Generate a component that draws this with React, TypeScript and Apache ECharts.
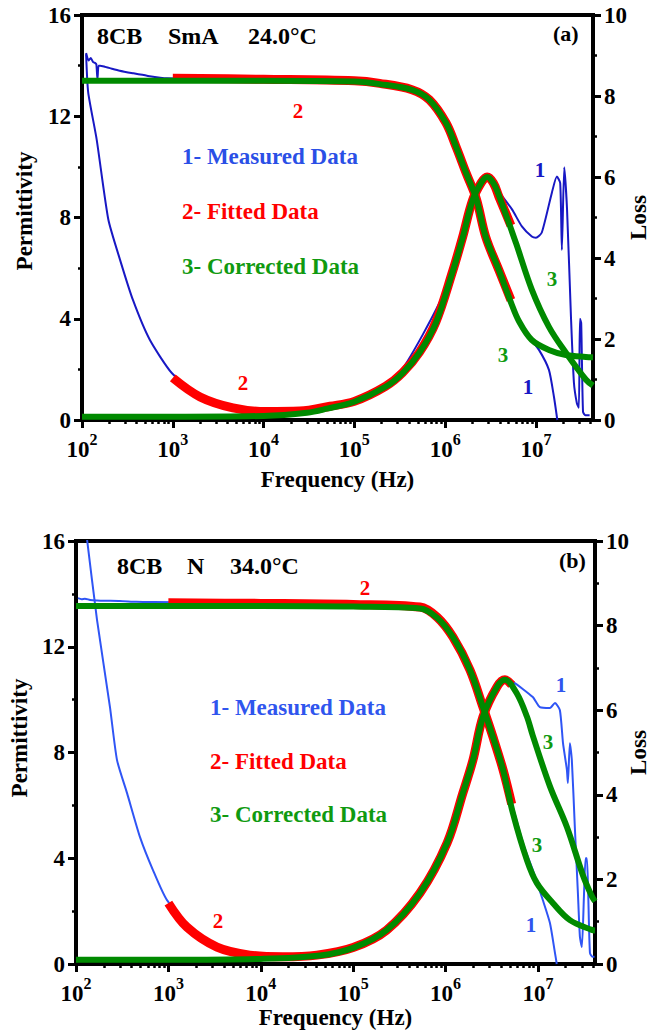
import React, { useEffect, useRef } from "react";
import * as echarts from "echarts";

const FONT = "Liberation Serif";

// ---------- tick values ----------
const decadeTicks = [1e2, 1e3, 1e4, 1e5, 1e6, 1e7];
const minorMultipliers = [2, 3, 4, 5, 6, 7, 8, 9];

// ---------- panel (a): 8CB SmA 24.0 °C ----------
const aMeasPermF = [111, 118, 125, 132, 140, 144, 148, 152, 158, 180, 203, 260, 363, 520, 860, 1e4, 1e5, 1.9e5, 4.3e5, 6.7e5, 1.02e6, 1.32e6, 1.7e6, 2.2e6, 2.8e6, 3.9e6, 5.3e6, 6.5e6, 8.4e6, 1.08e7, 1.39e7, 1.58e7, 1.72e7];
const aMeasPermV = [14.5, 14.2, 14.3, 14.15, 14.1, 14.05, 13.45, 14.0, 14.0, 13.95, 13.9, 13.8, 13.7, 13.6, 13.5, 13.45, 13.38, 13.27, 13.05, 12.65, 11.74, 10.79, 9.76, 8.75, 7.25, 5.95, 4.6, 3.9, 3.28, 2.77, 1.98, 0.91, 0.0];

const aMeasLossF = [111, 117, 145, 195, 262, 363, 558, 975, 2e3, 5e3, 1e4, 3e4, 1e5, 3e5, 1e6, 2e6, 2.9e6, 4e6, 5.45e6, 7e6, 9e6, 1e7, 1.16e7, 1.5e7, 1.7e7, 1.85e7, 1.93e7, 2.05e7, 2.2e7, 2.43e7, 2.62e7, 2.82e7, 2.97e7, 3.05e7, 3.15e7, 3.3e7, 3.5e7, 3.9e7];
const aMeasLossV = [9.03, 8.09, 6.93, 4.95, 3.96, 2.97, 1.98, 1.16, 0.6, 0.3, 0.22, 0.24, 0.47, 1.1, 3.2, 5.4, 6.0, 5.6, 5.2, 4.78, 4.53, 4.5, 4.63, 5.62, 6.01, 5.85, 4.2, 6.24, 5.2, 2.55, 0.92, 0.42, 0.3, 2.5, 2.4, 0.2, 0.12, 0.12];

const aFitPermF = [1e3, 1e4, 1e5, 1.9e5, 4.3e5, 6.7e5, 1.02e6, 1.32e6, 1.7e6, 2.2e6, 2.8e6, 3.9e6, 5.3e6];
const aFitPermV = [13.5, 13.46, 13.4, 13.3, 13.05, 12.65, 11.74, 10.79, 9.76, 8.75, 7.23, 5.93, 4.74];

const aFitLossF = [1e3, 2e3, 4.6e3, 1.07e4, 2.5e4, 5.4e4, 1e5, 2.2e5, 3.4e5, 5.2e5, 7.9e5, 1.2e6, 1.55e6, 2e6, 2.5e6, 2.9e6, 3.4e6, 3.9e6, 5.3e6];
const aFitLossV = [1.04, 0.57, 0.3, 0.21, 0.22, 0.34, 0.46, 0.83, 1.17, 1.67, 2.42, 3.65, 4.5, 5.42, 5.86, 6.0, 5.85, 5.52, 4.8];

const aCorrPermF = [100, 1e3, 1e4, 1e5, 1.9e5, 4.3e5, 6.7e5, 1.02e6, 1.32e6, 1.7e6, 2.2e6, 2.8e6, 3.9e6, 5.3e6, 6.5e6, 9e6, 1.39e7, 2.14e7, 3.54e7, 4.25e7];
const aCorrPermV = [13.4, 13.4, 13.4, 13.37, 13.27, 13.04, 12.65, 11.74, 10.79, 9.76, 8.75, 7.23, 5.93, 4.65, 3.9, 3.16, 2.77, 2.57, 2.49, 2.48];

const aCorrLossF = [100, 1e3, 1e4, 3e4, 5e4, 1e5, 2.2e5, 3.4e5, 5.2e5, 7.9e5, 1.2e6, 1.55e6, 2e6, 2.5e6, 2.9e6, 3.4e6, 3.9e6, 6e6, 9e6, 1.39e7, 2.14e7, 3.54e7, 4.25e7];
const aCorrLossV = [0.08, 0.08, 0.1, 0.18, 0.28, 0.45, 0.82, 1.16, 1.66, 2.4, 3.64, 4.48, 5.42, 5.86, 6.0, 5.85, 5.55, 4.38, 3.22, 2.3, 1.66, 1.0, 0.85];

// ---------- panel (b): 8CB N 34.0 °C ----------
const bMeasPermF = [105, 115, 125, 142, 170, 200, 299, 450, 680, 1e4, 1e5, 5.3e5, 8.1e5, 1.2e6, 1.84e6, 2.54e6, 3.26e6, 4.2e6, 5.2e6, 7e6, 8.8e6, 1.13e7, 1.35e7, 1.53e7, 1.6e7];
const bMeasPermV = [13.84, 13.8, 13.82, 13.77, 13.75, 13.74, 13.73, 13.7, 13.69, 13.66, 13.6, 13.5, 13.12, 12.37, 11.12, 9.72, 8.59, 7.34, 6.1, 4.5, 3.56, 2.42, 1.55, 0.42, 0.0];

const bMeasLossF = [100, 132, 169, 233, 278, 357, 493, 681, 966, 2e3, 5e3, 1e4, 3e4, 1e5, 3e5, 1e6, 2e6, 3e6, 4.4e6, 5.36e6, 8.8e6, 1.05e7, 1.35e7, 1.53e7, 1.73e7, 1.87e7, 2.06e7, 2.11e7, 2.22e7, 2.33e7, 2.51e7, 2.71e7, 2.85e7, 2.99e7, 3.15e7, 3.28e7, 3.39e7, 3.5e7, 3.66e7, 3.9e7, 4.1e7];
const bMeasLossV = [12.2, 10.02, 8.13, 6.08, 4.82, 4.04, 3.0, 2.22, 1.51, 0.75, 0.3, 0.2, 0.2, 0.4, 1.05, 2.8, 4.85, 6.2, 6.72, 6.67, 6.31, 6.07, 6.05, 6.17, 6.0, 5.22, 4.59, 4.28, 5.22, 4.82, 3.24, 1.68, 0.64, 0.4, 1.6, 2.5, 2.5, 1.7, 0.26, 0.17, 0.17];

const bFitPermF = [1e3, 1e4, 1e5, 5.3e5, 8.1e5, 1.2e6, 1.84e6, 2.54e6, 3.26e6, 4.2e6, 5.2e6];
const bFitPermV = [13.66, 13.64, 13.6, 13.5, 13.12, 12.37, 11.12, 9.72, 8.59, 7.34, 6.05];

const bFitLossF = [1e3, 1.59e3, 3.36e3, 7.6e3, 1.74e4, 4.05e4, 1e5, 2.3e5, 5.3e5, 1.04e6, 1.54e6, 1.98e6, 2.54e6, 3.6e6, 4.4e6, 5.2e6];
const bFitLossV = [1.44, 0.87, 0.4, 0.21, 0.17, 0.21, 0.39, 0.8, 1.68, 2.86, 4.04, 4.82, 5.84, 6.55, 6.72, 6.6];

const bCorrPermF = [100, 1e3, 1e4, 1e5, 5.3e5, 8.1e5, 1.2e6, 1.84e6, 2.54e6, 3.26e6, 4.2e6, 5.36e6, 7.6e6, 9.75e6, 1.45e7, 2.22e7, 3.84e7, 4.15e7];
const bCorrPermV = [13.54, 13.54, 13.54, 13.52, 13.45, 13.1, 12.37, 11.12, 9.72, 8.59, 7.34, 5.71, 3.93, 3.06, 2.31, 1.66, 1.29, 1.27];

const bCorrLossF = [100, 1e3, 1e4, 4.4e4, 1e5, 2.3e5, 5.3e5, 1.04e6, 1.54e6, 1.98e6, 2.54e6, 3.6e6, 4.4e6, 5.9e6, 7.6e6, 8.8e6, 1.35e7, 2.06e7, 3.07e7, 3.84e7, 4.15e7];
const bCorrLossV = [0.1, 0.1, 0.12, 0.2, 0.38, 0.8, 1.68, 2.86, 4.04, 4.82, 5.84, 6.55, 6.72, 6.4, 5.85, 5.4, 4.2, 3.24, 2.1, 1.6, 1.48];

// ---------- helpers ----------
const zip = (f: number[], v: number[]) => f.map((x, i) => [x, v[i]]);

const minorTicksFor = (max: number) => {
  const out: number[] = [];
  decadeTicks.forEach((d) => minorMultipliers.forEach((m) => { if (m * d < max) out.push(m * d); }));
  return out;
};

const BLACK = "#000";

function xAxesFor(grid: number, max: number, nameGap: number) {
  const major = {
    type: "log", logBase: 10, gridIndex: grid, position: "bottom", min: 100, max,
    axisLine: { show: true, onZero: false, lineStyle: { color: BLACK, width: 4 } },
    axisTick: { show: true, length: 8, lineStyle: { color: BLACK, width: 3 }, customValues: decadeTicks },
    axisLabel: {
      customValues: decadeTicks, margin: 11,
      formatter: (v: number) => `{b|10}{s|${Math.round(Math.log10(v))}}`,
      rich: {
        b: { fontSize: 23, fontWeight: "bold", fontFamily: FONT, color: BLACK, lineHeight: 30, verticalAlign: "bottom" },
        s: { fontSize: 16, fontWeight: "bold", fontFamily: FONT, color: BLACK, lineHeight: 16, verticalAlign: "top" },
      },
    },
    splitLine: { show: false },
    minorTick: { show: false },
    name: "Frequency (Hz)", nameLocation: "middle", nameGap,
    nameTextStyle: { fontSize: 23, fontWeight: "bold", fontFamily: FONT, color: BLACK },
  };
  const minor = {
    type: "log", logBase: 10, gridIndex: grid, position: "bottom", min: 100, max,
    axisLine: { show: false },
    axisTick: { show: true, length: 4, lineStyle: { color: BLACK, width: 2.5 }, customValues: minorTicksFor(max) },
    axisLabel: { show: false },
    splitLine: { show: false },
  };
  return [major, minor];
}

const labelStyle = { fontSize: 23, fontWeight: "bold", fontFamily: FONT, color: BLACK, margin: 11 };

function yAxesFor(grid: number, leftGap: number, leftPad: number, rightGap: number) {
  const common = {
    type: "value", gridIndex: grid,
    axisLine: { show: true, onZero: false, lineStyle: { color: BLACK, width: 4 } },
    axisTick: { show: true, length: 8, lineStyle: { color: BLACK, width: 3 } },
    minorTick: { show: true, splitNumber: 2, length: 4, lineStyle: { color: BLACK, width: 2.5 } },
    splitLine: { show: false },
    axisLabel: labelStyle,
    nameLocation: "middle", nameRotate: 90,
  };
  return [
    { ...common, position: "left", min: 0, max: 16, interval: 4, name: "Permittivity", nameGap: leftGap,
      nameTextStyle: { fontSize: 23, fontWeight: "bold", fontFamily: FONT, color: BLACK, padding: [0, 0, 0, leftPad] } },
    { ...common, position: "right", min: 0, max: 10, interval: 2, name: "Loss", nameGap: rightGap,
      nameMoveOverlap: false,
      nameTextStyle: { fontSize: 23, fontWeight: "bold", fontFamily: FONT, color: BLACK } },
  ];
}

function line(name: string, data: number[][], color: string, width: number, xi: number, yi: number, z: number, smooth: number) {
  return {
    type: "line", name, data, xAxisIndex: xi, yAxisIndex: yi, z,
    showSymbol: false, symbol: "none", clip: true, silent: true,
    smooth,
    lineStyle: { color, width, cap: "butt", join: "round" },
    emphasis: { disabled: true },
  };
}

type T = { t: string; x: number; y: number; c: string; s: number; a?: string };
function texts(items: T[]) {
  return items.map((it) => ({
    type: "text", x: it.x, y: it.y, silent: true, z: 100,
    style: {
      text: it.t, fill: it.c, fontSize: it.s, fontWeight: "bold", fontFamily: FONT,
      align: it.a || "left", verticalAlign: "middle",
    },
  }));
}

const RED = "#ff0000";
const GREEN = "#008a00";
const GREEN_T = "#109a10";
const BLUE_A = "#1818c4";
const BLUE_B = "#2f55f5";
const BLUE_TA = "#2a4fe6";
const BLUE_TB = "#2f55ee";

export default function App() {
  const ref = useRef<HTMLDivElement>(null);
  useEffect(() => {
    document.body.style.margin = "0";
    const chart = echarts.init(ref.current!, undefined, { renderer: "svg" });
    const maxA = 4.25e7;
    const maxB = 4.15e7;
    chart.setOption({
      animation: false,
      backgroundColor: "#fff",
      grid: [
        { left: 82, top: 15, width: 511, height: 405, show: true, borderColor: BLACK, borderWidth: 4, backgroundColor: "transparent", outerBoundsMode: "none" },
        { left: 76, top: 541, width: 519, height: 423, show: true, borderColor: BLACK, borderWidth: 4, backgroundColor: "transparent", outerBoundsMode: "none" },
      ],
      xAxis: [...xAxesFor(0, maxA, 48), ...xAxesFor(1, maxB, 42)],
      yAxis: [...yAxesFor(0, 46, 13, 34), ...yAxesFor(1, 42, 29, 32)],
      series: [
        line("a measured permittivity", zip(aMeasPermF, aMeasPermV), BLUE_A, 2, 0, 0, 1, 0.2),
        line("a measured loss", zip(aMeasLossF, aMeasLossV), BLUE_A, 2, 0, 1, 1, 0.2),
        line("a fitted permittivity", zip(aFitPermF, aFitPermV), RED, 9, 0, 0, 2, 0.35),
        line("a fitted loss", zip(aFitLossF, aFitLossV), RED, 9, 0, 1, 2, 0.35),
        line("a corrected permittivity", zip(aCorrPermF, aCorrPermV), GREEN, 6, 0, 0, 3, 0.35),
        line("a corrected loss", zip(aCorrLossF, aCorrLossV), GREEN, 6, 0, 1, 3, 0.35),

        line("b measured permittivity", zip(bMeasPermF, bMeasPermV), BLUE_B, 2, 2, 2, 1, 0.2),
        line("b measured loss", zip(bMeasLossF, bMeasLossV), BLUE_B, 2, 2, 3, 1, 0.2),
        line("b fitted permittivity", zip(bFitPermF, bFitPermV), RED, 9, 2, 2, 2, 0.35),
        line("b fitted loss", zip(bFitLossF, bFitLossV), RED, 9, 2, 3, 2, 0.35),
        line("b corrected permittivity", zip(bCorrPermF, bCorrPermV), GREEN, 6, 2, 2, 3, 0.35),
        line("b corrected loss", zip(bCorrLossF, bCorrLossV), GREEN, 6, 2, 3, 3, 0.35),
      ],
      graphic: texts([
        { t: "8CB", x: 97, y: 36, c: BLACK, s: 24 },
        { t: "SmA", x: 168, y: 36, c: BLACK, s: 24 },
        { t: "24.0°C", x: 248, y: 36, c: BLACK, s: 24 },
        { t: "(a)", x: 553, y: 33, c: BLACK, s: 22 },
        { t: "2", x: 298, y: 111, c: RED, s: 21, a: "center" },
        { t: "1- Measured Data", x: 182, y: 156, c: BLUE_TA, s: 23 },
        { t: "2- Fitted Data", x: 182, y: 211, c: RED, s: 23 },
        { t: "3- Corrected Data", x: 182, y: 266, c: GREEN_T, s: 23 },
        { t: "2", x: 243, y: 383, c: RED, s: 21, a: "center" },
        { t: "1", x: 540, y: 170, c: BLUE_A, s: 21, a: "center" },
        { t: "3", x: 552, y: 279, c: GREEN_T, s: 21, a: "center" },
        { t: "3", x: 503, y: 355, c: GREEN_T, s: 21, a: "center" },
        { t: "1", x: 528, y: 387, c: BLUE_A, s: 21, a: "center" },

        { t: "8CB", x: 117, y: 566, c: BLACK, s: 24 },
        { t: "N", x: 187, y: 566, c: BLACK, s: 24 },
        { t: "34.0°C", x: 230, y: 566, c: BLACK, s: 24 },
        { t: "(b)", x: 559, y: 560, c: BLACK, s: 22 },
        { t: "2", x: 365, y: 588, c: RED, s: 21, a: "center" },
        { t: "1- Measured Data", x: 210, y: 707, c: BLUE_TB, s: 23 },
        { t: "2- Fitted Data", x: 210, y: 761, c: RED, s: 23 },
        { t: "3- Corrected Data", x: 210, y: 814, c: GREEN_T, s: 23 },
        { t: "2", x: 218, y: 921, c: RED, s: 21, a: "center" },
        { t: "1", x: 561, y: 685, c: BLUE_TB, s: 21, a: "center" },
        { t: "3", x: 548, y: 742, c: GREEN_T, s: 21, a: "center" },
        { t: "3", x: 537, y: 845, c: GREEN_T, s: 21, a: "center" },
        { t: "1", x: 531, y: 925, c: BLUE_TB, s: 21, a: "center" },
      ]),
    });
    return () => chart.dispose();
  }, []);
  return <div ref={ref} style={{ width: 652, height: 1031 }} />;
}
